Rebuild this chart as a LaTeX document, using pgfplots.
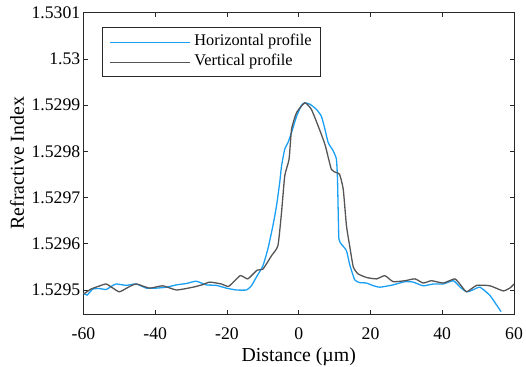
\documentclass[border=0pt]{standalone}
\usepackage{pgfplots}
\pgfplotsset{compat=1.18}
\usepackage{pgfplotstable}
\usepackage{fontspec}
\setmainfont{Liberation Serif}
\definecolor{hblue}{RGB}{25,160,245}
\definecolor{vgray}{RGB}{85,85,85}
\definecolor{axgray}{RGB}{40,40,40}
\pgfplotstableread{
x y
-60 1.529493
-59 1.529489
-57.4 1.529502
-55.5 1.529503
-53.7 1.529501
-52.2 1.529508
-50.9 1.529513
-48.1 1.529510
-45.3 1.529513
-42.5 1.529504
-39.7 1.529504
-36.9 1.529506
-34.1 1.529511
-31.3 1.529514
-28.6 1.529519
-25.8 1.529511
-23 1.529510
-20.2 1.529504
-17.4 1.529500
-14.6 1.529500
-13.2 1.529509
-11.8 1.529528
-10.0 1.529552
-8.6 1.529589
-7.2 1.529639
-6.2 1.529682
-5.3 1.529733
-4.8 1.529768
-3.9 1.529805
-3.0 1.529819
-2.0 1.529841
-0.6 1.529876
0.8 1.529900
1.7 1.529905
3.1 1.529902
4.9 1.529891
6.3 1.529876
7.3 1.529848
8.2 1.529819
9.6 1.529801
10.5 1.529783
10.8 1.529740
11.0 1.529668
11.2 1.529610
11.9 1.529599
13.3 1.529585
14.2 1.529555
15.6 1.529522
17.0 1.529516
18.9 1.529515
20.5 1.529510
22.6 1.529506
26.3 1.529511
29.6 1.529518
31.9 1.529517
34.7 1.529509
37.5 1.529513
40.3 1.529513
43.1 1.529520
45.0 1.529506
46.8 1.529496
48.5 1.529500
50.5 1.529506
53.3 1.529488
56.4 1.529453
}\horiz
\pgfplotstableread{
x y
-60 1.529491
-57.9 1.529502
-55.8 1.529508
-53.7 1.529513
-52 1.529505
-50 1.529496
-47.5 1.529506
-45.3 1.529513
-41.6 1.529504
-37.9 1.529509
-34.1 1.529500
-29.5 1.529506
-27 1.529511
-24.8 1.529517
-21.6 1.529513
-19.5 1.529508
-16.3 1.529531
-14.2 1.529524
-11.6 1.529543
-10 1.529545
-7.6 1.529574
-5.8 1.529596
-4.8 1.529668
-3.9 1.529747
-2.7 1.529783
-2.0 1.529848
-0.6 1.529884
1.7 1.529905
3.5 1.529891
5.4 1.529855
7.3 1.529815
9.1 1.529761
10.5 1.529754
11.4 1.529750
12.4 1.529718
13.3 1.529639
14.2 1.529595
15.2 1.529550
16.5 1.529535
18.9 1.529527
21.7 1.529524
24.0 1.529531
26.3 1.529518
29.6 1.529520
32.4 1.529524
34.7 1.529515
37 1.529520
40.3 1.529515
43.5 1.529524
45.2 1.529510
46.8 1.529496
49.6 1.529510
53.3 1.529509
57 1.529498
59 1.529505
60 1.529513
}\vert
\begin{document}
\begin{tikzpicture}
\begin{axis}[
  scale only axis,
  width=430.5bp, height=301.3bp,
  at={(0,0)}, anchor=south west,
  xmin=-60, xmax=60, ymin=1.529448, ymax=1.5301,
  xtick={-60,-40,...,60},
  ytick={1.5295,1.5296,1.5297,1.5298,1.5299,1.53,1.5301},
  yticklabels={1.5295,1.5296,1.5297,1.5298,1.5299,1.53,1.5301},
  tick pos=both, tick align=inside,
  major tick length=4.5bp,
  axis line style={axgray, line width=0.9bp},
  every tick/.style={axgray, line width=0.8bp},
  tick label style={font=\fontsize{17.7bp}{21bp}\selectfont, text=black},
  /pgf/number format/assume math mode=true,
  xticklabel style={anchor=base, yshift=-25bp},
  yticklabel style={inner xsep=3bp},
  xlabel={Distance (µm)},
  ylabel={Refractive Index},
  xlabel style={font=\fontsize{19.8bp}{23bp}\selectfont, at={(axis description cs:0.5,0)}, anchor=base, yshift=-47bp},
  ylabel style={font=\fontsize{19.8bp}{23bp}\selectfont, at={(axis description cs:-0.1545,0.5)}, anchor=center, rotate=0},
  legend style={at={(axis description cs:0.0423,0.9515)}, anchor=north west,
    draw=axgray, line width=0.9bp, font=\fontsize{16.3bp}{19bp}\selectfont,
    inner xsep=7bp, inner ysep=4.5bp, row sep=0bp, column sep=2bp,
    nodes={inner sep=2bp, text height=11.5bp, text depth=4.5bp}},
  legend cell align=left,
  legend image code/.code={\draw[#1] (0bp,0bp) -- (80bp,0bp);},
]
\addplot[hblue, line width=1.3bp, smooth, tension=0.3] table[x=x,y=y] {\horiz};
\addlegendentry{Horizontal profile}
\addplot[vgray, line width=1.3bp, smooth, tension=0.3] table[x=x,y=y] {\vert};
\addlegendentry{Vertical profile}
\end{axis}
\pgfresetboundingbox
\path[use as bounding box] (-83.5bp,-53bp) rectangle (442.5bp,314bp);
\end{tikzpicture}
\end{document}
